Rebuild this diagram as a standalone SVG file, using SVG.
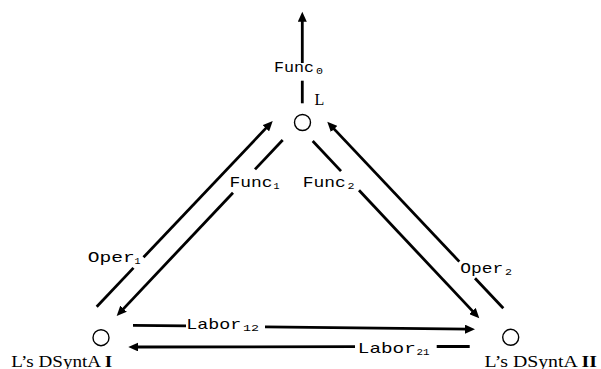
<svg xmlns="http://www.w3.org/2000/svg" width="601" height="369" viewBox="0 0 601 369">
<style>
.ln{stroke:#000;stroke-width:2.8;fill:none}
.ar{marker-end:url(#ah)}
.node{fill:#fff;stroke:#000;stroke-width:1.4}
.mono{font-family:"Liberation Mono","Courier New",monospace;font-size:15px;fill:#000}
.sub{font-family:"Liberation Mono","Courier New",monospace;font-size:9.5px;fill:#000}
.serif{font-family:"Liberation Serif","Times New Roman",serif;font-size:16px;fill:#000}
</style>
<defs>
<marker id="ah" markerUnits="userSpaceOnUse" markerWidth="11" markerHeight="9" refX="4" refY="4.5" orient="auto">
<path d="M0,0 L10,4.5 L0,9 z" fill="#000"/>
</marker>
</defs>
<rect width="601" height="369" fill="#fff"/>
<g id="connectors">
<g id="func0">
<line class="ln ar" x1="302.3" y1="63" x2="302.3" y2="17.7"/>
<line class="ln" x1="302.3" y1="80.7" x2="302.3" y2="103.3"/>
<text class="mono" x="274" y="72" textLength="40" lengthAdjust="spacingAndGlyphs">Func</text>
<text class="sub" x="316" y="74" textLength="7" lengthAdjust="spacingAndGlyphs">0</text>
</g>
<g id="oper1">
<line class="ln" x1="96.7" y1="306.7" x2="133.5" y2="267.9"/>
<line class="ln ar" x1="143.5" y1="257.3" x2="268.6" y2="125.4"/>
<text class="mono" x="87.8" y="262" textLength="47" lengthAdjust="spacingAndGlyphs">Oper</text>
<text class="sub" x="134.5" y="264" textLength="6" lengthAdjust="spacingAndGlyphs">1</text>
</g>
<g id="func1">
<line class="ln" x1="282.7" y1="140" x2="255" y2="169.4"/>
<line class="ln ar" x1="233" y1="192.7" x2="120.8" y2="311.6"/>
<text class="mono" x="229.5" y="187" textLength="43" lengthAdjust="spacingAndGlyphs">Func</text>
<text class="sub" x="273.5" y="189" textLength="6" lengthAdjust="spacingAndGlyphs">1</text>
</g>
<g id="func2">
<line class="ln" x1="312.7" y1="141" x2="341" y2="171.1"/>
<line class="ln ar" x1="359" y1="190.3" x2="475.2" y2="313.9"/>
<text class="mono" x="302.8" y="187" textLength="43" lengthAdjust="spacingAndGlyphs">Func</text>
<text class="sub" x="347.5" y="189" textLength="7" lengthAdjust="spacingAndGlyphs">2</text>
</g>
<g id="oper2">
<line class="ln" x1="503.3" y1="308.3" x2="475" y2="278.3"/>
<line class="ln ar" x1="459.3" y1="261.6" x2="331.4" y2="126.1"/>
<text class="mono" x="460.2" y="273" textLength="43" lengthAdjust="spacingAndGlyphs">Oper</text>
<text class="sub" x="505" y="275" textLength="7" lengthAdjust="spacingAndGlyphs">2</text>
</g>
<g id="labor12">
<line class="ln" x1="133" y1="325.3" x2="186" y2="325.9"/>
<line class="ln ar" x1="265" y1="326.8" x2="469" y2="329.2"/>
<text class="mono" x="186.2" y="329" textLength="55" lengthAdjust="spacingAndGlyphs">Labor</text>
<text class="sub" x="243" y="331" textLength="16" lengthAdjust="spacingAndGlyphs">12</text>
</g>
<g id="labor21">
<line class="ln" x1="469.7" y1="346.5" x2="436.7" y2="346.5"/>
<line class="ln ar" x1="355" y1="346.7" x2="134.3" y2="347"/>
<text class="mono" x="357.8" y="353" textLength="58" lengthAdjust="spacingAndGlyphs">Labor</text>
<text class="sub" x="416.5" y="355" textLength="13" lengthAdjust="spacingAndGlyphs">21</text>
</g>
</g>
<g id="node-L">
<circle class="node" cx="302.5" cy="122.5" r="8"/>
<text class="serif" x="314.5" y="105">L</text>
</g>
<g id="node-I">
<circle class="node" cx="101" cy="337.7" r="8"/>
<text class="serif" x="11.2" y="366.5" textLength="101" lengthAdjust="spacingAndGlyphs">L’s DSyntA <tspan font-weight="bold">I</tspan></text>
</g>
<g id="node-II">
<circle class="node" cx="510.7" cy="337.3" r="8"/>
<text class="serif" x="484.5" y="366.5" textLength="112.5" lengthAdjust="spacingAndGlyphs">L’s DSyntA <tspan font-weight="bold">II</tspan></text>
</g>
</svg>
